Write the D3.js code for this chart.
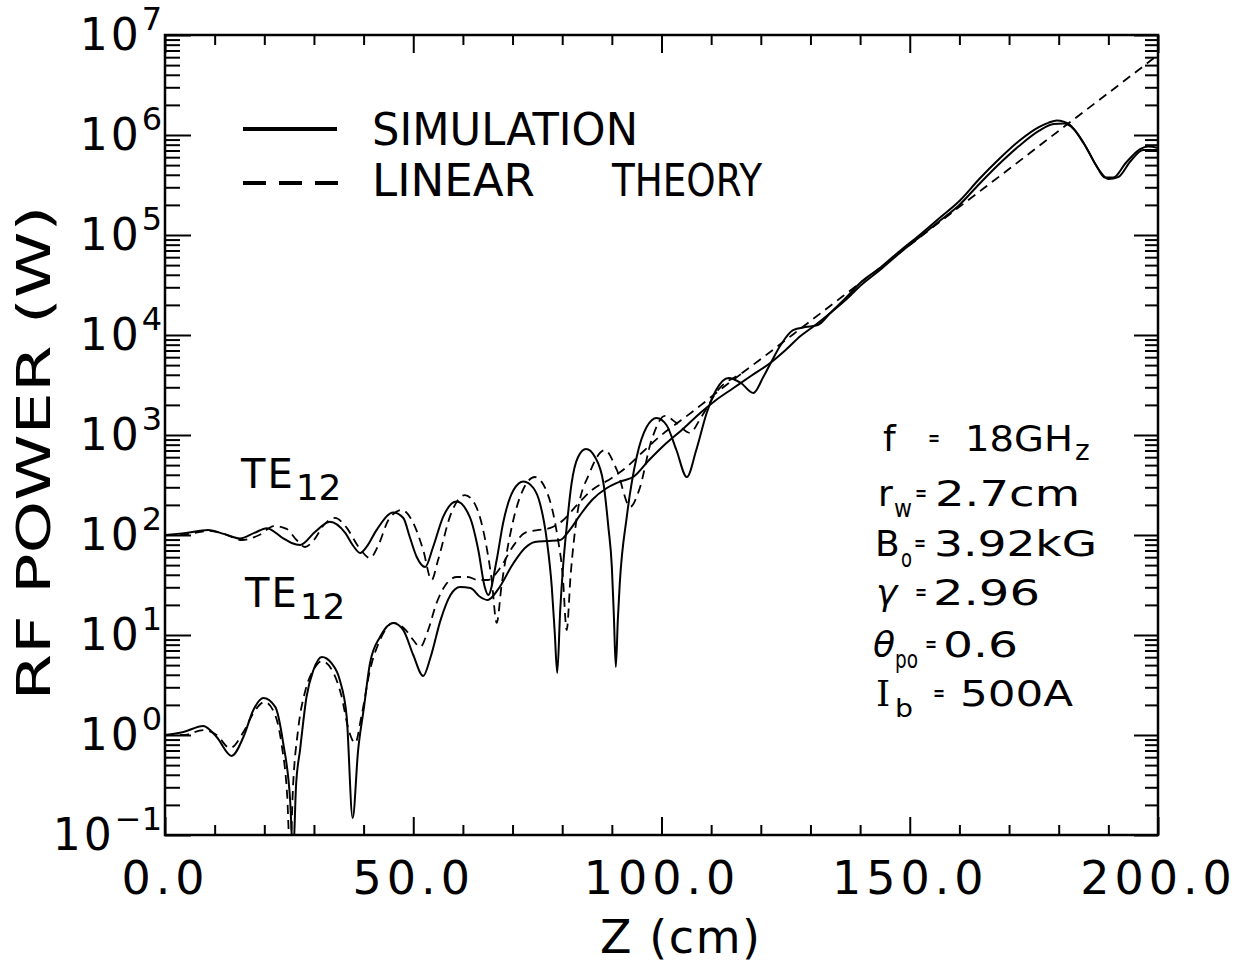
<!DOCTYPE html>
<html>
<head>
<meta charset="utf-8">
<script src="https://cdn.jsdelivr.net/npm/d3@7"></script>
<style>
  body { margin: 0; background: #fff; }
  svg { font-family: "DejaVu Sans", sans-serif; }
  .axis line { stroke: #000; stroke-width: 2; }
  .curve { fill: none; stroke: #000; stroke-width: 2; stroke-linejoin: round; }
  .curve.dash { stroke-dasharray: 9,6; stroke-width: 1.8; }
  .lbl { fill: #000; }
</style>
</head>
<body>
<script>
// axis ranges and ticks
var zRange = [0, 200];
var powerRange = [1e-1, 1e7];
var xMinorTicks = [0, 10, 20, 30, 40, 50, 60, 70, 80, 90, 100, 110, 120, 130, 140, 150, 160, 170, 180, 190, 200];
var xLabelTicks = [0, 50, 100, 150, 200];
var yLabelExps = [-1, 0, 1, 2, 3, 4, 5, 6, 7];

// TE12 started at 100 W : simulation (solid)
var zSimTop = [0, 4.2, 8.7, 12, 15.1, 18, 20.5, 23.8, 25.5, 27.2, 30.2, 33.2, 36.3, 37.8, 39.3, 40.6, 42.6, 46, 48, 49.3,
  50.7, 52.4, 54, 56, 58.7, 61.4, 63.1, 64.4, 65.1, 66.8, 68.1, 70.2, 72.2, 74.2, 75.5, 76.9, 77.9, 78.5, 79, 79.6,
  80.2, 80.9, 81.9, 83.2, 84.8, 86.6, 88.3, 89.3, 90, 90.4, 90.8, 91.2, 91.6, 93, 95, 97, 99, 101, 103, 105.1,
  107, 109.1, 111, 113.5, 116, 118.5, 120.5, 122, 124, 126.5, 129, 131.5, 134, 137.3, 140, 144, 148, 152, 156, 160,
  164, 168, 172, 176, 178, 179.6, 181, 182.3, 185, 187.5, 189.3, 191, 193.5, 196.4, 198, 200];
var pSimTop = [100, 105, 112, 102, 92.3, 105, 117, 92.7, 83.2, 79.4, 107, 136, 105, 79.4, 66.1, 75.9, 112, 168, 148, 95.5,
  60.3, 47.9, 75.9, 151, 216, 151, 70.8, 30.2, 25.1, 56.2, 132, 282, 343, 295, 209, 89.1, 30.2, 10.5, 4.17, 17.8,
  50.1, 120, 331, 603, 724, 603, 331, 120, 47.9, 15.8, 4.79, 14.1, 33.1, 151, 603, 1200, 1480, 1260, 708, 380,
  708, 1660, 2820, 3720, 3310, 2630, 3800, 5250, 7940, 11200, 12000, 12600, 16600, 24000, 33100, 46800, 69200, 1.0e5, 1.48e5, 2.19e5,
  3.63e5, 5.75e5, 8.71e5, 1.20e6, 1.33e6, 1.40e6, 1.36e6, 1.26e6, 8.32e5, 5.01e5, 3.76e5, 3.76e5, 5.25e5, 7.24e5, 7.67e5, 7.41e5];

// TE12 started at 1 W : simulation (solid)
var zSimLow = [0, 3.7, 7.7, 10.4, 13.4, 15.8, 17.8, 19.8, 22.2, 23.8, 25.2, 25.8, 26.4, 27.2, 28.5, 29.9, 31.6, 33.5, 35.2, 36.6,
  37.8, 38.9, 40, 41.3, 43.3, 46, 48, 50, 52, 53.5, 55.5, 57.5, 59.4, 61.5, 63.5, 65, 67, 70.2, 72.5, 74.5,
  77, 79.6, 81.5, 83.6, 86, 89, 92, 94.3, 97.5, 101, 104.5, 107.8, 111, 114.5, 118, 121.9, 125, 128, 131, 134,
  137.3, 140, 144, 148, 152, 156, 160, 164, 168, 172, 176, 179, 181, 183, 185.5, 188, 190, 192, 194.5, 197, 200];
var pSimLow = [1.00, 1.07, 1.23, 0.955, 0.617, 0.955, 1.78, 2.34, 1.91, 0.832, 0.224, 0.063, 0.316, 0.708, 2.40, 4.47, 6.03, 5.25, 3.55, 1.51,
  0.148, 0.708, 1.78, 5.25, 9.55, 13.2, 11.2, 6.31, 3.89, 6.03, 14.1, 25.1, 30.2, 29.5, 24.0, 22.4, 28.2, 52.5, 74.1, 85.1,
  87.1, 89.1, 112, 158, 224, 295, 347, 380, 562, 832, 1170, 1660, 2240, 2950, 3890, 5250, 7080, 9770, 12600, 16600,
  22900, 30900, 44700, 66100, 95500, 1.38e5, 2.0e5, 3.24e5, 5.13e5, 7.76e5, 1.10e6, 1.29e6, 1.30e6, 1.15e6, 7.59e5, 4.57e5, 3.63e5, 3.80e5, 5.50e5, 7.08e5, 7.08e5];

// TE12 started at 100 W : linear theory (dashed)
var zLinTop = [0, 4.2, 9, 12, 15.5, 19, 22, 24.5, 26.5, 28.2, 30, 32, 34.2, 36.5, 39, 41.3, 43, 45, 47.7, 50,
  52, 53.7, 55, 57.5, 60.4, 62.5, 64.5, 65.8, 66.8, 67.8, 69.5, 71.5, 74.5, 77, 79, 80.1, 80.9, 81.7, 83, 85.5,
  88.6, 91, 93.7, 95.5, 98, 100.7, 103, 105.7, 108, 111.4, 116.5, 120, 130, 140, 150, 160, 170, 180, 190, 200];
var pLinTop = [100, 102, 110, 102, 89.1, 100, 123, 115, 89.1, 75.9, 89.1, 126, 148, 120, 75.9, 58.9, 79.4, 141, 178, 132,
  70.8, 35.5, 56.2, 158, 251, 200, 89.1, 35.5, 13.2, 31.6, 100, 240, 380, 263, 100, 39.8, 11.2, 39.8, 158, 417,
  708, 447, 191, 282, 891, 1550, 1320, 1050, 1510, 2820, 4270, 5750, 13800, 33100, 79400, 1.91e5, 4.57e5, 1.10e6, 2.63e6, 6.31e6];

// TE12 started at 1 W : linear theory (dashed)
var zLinLow = [0, 3.7, 7.7, 10.4, 13.1, 15.8, 17.8, 20.1, 22.2, 23.5, 24.6, 25.2, 25.8, 26.8, 28.3, 29.9, 31.6, 33.5, 35.5, 37,
  38.3, 39.6, 41.3, 43.3, 46, 48.5, 50, 51.4, 53, 54.7, 56.5, 58.8, 61, 63, 65, 67.5, 70, 72.5, 75, 77.5,
  80, 83, 86, 90, 93, 96, 100, 104, 108, 112, 116];
var pLinLow = [1.00, 1.00, 1.12, 1.00, 0.741, 1.07, 1.66, 2.14, 1.58, 0.794, 0.251, 0.063, 0.316, 1.12, 2.82, 4.47, 5.50, 4.57, 2.51, 1.12,
  0.832, 1.58, 4.47, 8.91, 13.2, 11.2, 8.91, 7.59, 11.2, 20.9, 31.6, 38.0, 38.0, 35.5, 35.5, 46.8, 75.9, 105, 112, 117,
  138, 200, 282, 372, 479, 661, 1000, 1410, 2000, 2880, 4070];

// operating parameters
var paramSymbols = ['f', 'r', 'B', '\u03b3', '\u03b8', 'I'];
var paramSubs = ['', 'w', 'o', '', 'po', 'b'];
var paramValues = ['18GH', '2.7cm', '3.92kG', '2.96', '0.6', '500A'];
var paramTails = ['z', '', '', '', '', ''];

var series = [
  {name: 'simTop', dashed: false, values: d3.zip(zSimTop, pSimTop)},
  {name: 'simLow', dashed: false, values: d3.zip(zSimLow, pSimLow)},
  {name: 'linTop', dashed: true, values: d3.zip(zLinTop, pLinTop)},
  {name: 'linLow', dashed: true, values: d3.zip(zLinLow, pLinLow)}
];

var w = 1241, h = 963;
var frame = {left: 165, right: 1158, top: 35, bottom: 835};

var svg = d3.select('body').append('svg')
    .attr('width', w)
    .attr('height', h);

var x = d3.scaleLinear().domain(zRange).range([frame.left, frame.right]);
var y = d3.scaleLog().domain(powerRange).range([frame.bottom, frame.top]);

svg.append('defs').append('clipPath')
    .attr('id', 'plotClip')
  .append('rect')
    .attr('x', frame.left)
    .attr('y', frame.top)
    .attr('width', frame.right - frame.left)
    .attr('height', frame.bottom - frame.top);

function isMajorX(d) { return xLabelTicks.indexOf(d) >= 0; }
function isMajorY(d) { return Math.abs(Math.log10(d) - Math.round(Math.log10(d))) < 1e-6; }

// bottom axis with labels
var gxb = svg.append('g')
    .attr('class', 'axis')
    .attr('transform', translation(0, frame.bottom))
    .call(d3.axisBottom(x).tickValues(xMinorTicks).tickSize(-10).tickPadding(26)
      .tickFormat(function(d) { return isMajorX(d) ? d3.format('.1f')(d) : ''; }))
    .attr('font-family', '"DejaVu Sans", sans-serif')
    .attr('font-size', 46);
gxb.select('.domain').remove();
gxb.selectAll('.tick line').attr('y2', function(d) { return isMajorX(d) ? -18 : -10; });
gxb.selectAll('.tick text').attr('fill', '#000').attr('letter-spacing', 5);

// top axis, ticks only
var gxt = svg.append('g')
    .attr('class', 'axis')
    .attr('transform', translation(0, frame.top))
    .call(d3.axisTop(x).tickValues(xMinorTicks).tickSize(-10).tickFormat(''));
gxt.select('.domain').remove();
gxt.selectAll('.tick line').attr('y2', function(d) { return isMajorX(d) ? 18 : 10; });

// left and right log axes
var gyl = svg.append('g')
    .attr('class', 'axis')
    .attr('transform', translation(frame.left, 0))
    .call(d3.axisLeft(y).tickValues(y.ticks()).tickSize(-15).tickFormat(''));
gyl.select('.domain').remove();
gyl.selectAll('.tick line').attr('x2', function(d) { return isMajorY(d) ? 26 : 15; });

var gyr = svg.append('g')
    .attr('class', 'axis')
    .attr('transform', translation(frame.right, 0))
    .call(d3.axisRight(y).tickValues(y.ticks()).tickSize(-13).tickFormat(''));
gyr.select('.domain').remove();
gyr.selectAll('.tick line').attr('x2', function(d) { return isMajorY(d) ? -24 : -13; });

// frame
svg.append('rect')
    .attr('x', frame.left)
    .attr('y', frame.top)
    .attr('width', frame.right - frame.left)
    .attr('height', frame.bottom - frame.top)
    .attr('fill', 'none')
    .attr('stroke', '#000')
    .attr('stroke-width', 2.5);

// y tick labels 10^n
var ylab = svg.append('g').selectAll('text')
    .data(yLabelExps)
    .enter().append('text')
    .attr('class', 'lbl')
    .attr('x', frame.left - 3)
    .attr('y', function(d) { return y(Math.pow(10, d)) + 15; })
    .attr('text-anchor', 'end');
ylab.append('tspan')
    .attr('font-size', 44)
    .attr('letter-spacing', 3)
    .text('10');
ylab.append('tspan')
    .attr('font-size', 32)
    .attr('dy', -20)
    .text(function(d) { return d < 0 ? '\u2212' + Math.abs(d) : d; });

// axis titles
svg.append('text')
    .attr('class', 'lbl')
    .attr('transform', translation(50, 453) + ' rotate(-90)')
    .attr('text-anchor', 'middle')
    .attr('font-size', 46)
    .attr('textLength', 495)
    .attr('lengthAdjust', 'spacingAndGlyphs')
    .text('RF POWER (W)');

svg.append('text')
    .attr('class', 'lbl')
    .attr('x', 680)
    .attr('y', 953)
    .attr('text-anchor', 'middle')
    .attr('font-size', 46)
    .attr('textLength', 160)
    .attr('lengthAdjust', 'spacing')
    .text('Z (cm)');

// curves
var line = d3.line()
    .x(function(d) { return x(d[0]); })
    .y(function(d) { return y(d[1]); })
    .curve(d3.curveMonotoneX);

svg.append('g')
    .attr('clip-path', 'url(#plotClip)')
  .selectAll('path')
    .data(series)
    .enter().append('path')
    .attr('class', function(d) { return d.dashed ? 'curve dash' : 'curve'; })
    .attr('d', function(d) { return line(d.values); });

// legend
var legend = svg.append('g').attr('class', 'legend');
legend.append('line')
    .attr('x1', 243).attr('x2', 337).attr('y1', 129).attr('y2', 129)
    .attr('stroke', '#000').attr('stroke-width', 4);
legend.append('line')
    .attr('x1', 243).attr('x2', 341).attr('y1', 183).attr('y2', 183)
    .attr('stroke', '#000').attr('stroke-width', 4)
    .attr('stroke-dasharray', '23,13');
legend.append('text')
    .attr('class', 'lbl')
    .attr('x', 372).attr('y', 145)
    .attr('font-size', 44)
    .attr('textLength', 266).attr('lengthAdjust', 'spacingAndGlyphs')
    .text('SIMULATION');
legend.append('text')
    .attr('class', 'lbl')
    .attr('x', 372).attr('y', 196)
    .attr('font-size', 44)
    .attr('textLength', 163).attr('lengthAdjust', 'spacingAndGlyphs')
    .text('LINEAR');
legend.append('text')
    .attr('class', 'lbl')
    .attr('x', 612).attr('y', 196)
    .attr('font-size', 44)
    .attr('textLength', 150).attr('lengthAdjust', 'spacingAndGlyphs')
    .text('THEORY');

// mode labels
function modeLabel(x0, y0) {
  var t = svg.append('text')
      .attr('class', 'lbl')
      .attr('x', x0).attr('y', y0)
      .attr('font-size', 40);
  t.append('tspan').attr('letter-spacing', 2).text('TE');
  t.append('tspan').attr('dx', 1).attr('dy', 12).attr('font-size', 36).text('12');
}
modeLabel(241, 488);
modeLabel(245, 607);

// parameter block: layout per row
var rowY = [451, 506, 556, 605, 657, 706];
var symX = [883, 878, 875, 876, 873, 876];
var subX = [0, 894, 901, 0, 895, 895];
var subW = [0, 18, 11, 0, 23, 18];
var eqX = [928, 915, 914, 915, 925, 933];
var valX = [965, 935, 934, 933, 943, 960];
var valW = [108, 145, 163, 107, 75, 113];

var pg = svg.append('g').attr('class', 'params');
paramSymbols.forEach(function(sym, i) {
  pg.append('text')
      .attr('class', 'lbl')
      .attr('x', symX[i]).attr('y', rowY[i])
      .attr('font-size', 36)
      .attr('font-family', sym === 'I' ? '"DejaVu Serif", serif' : null)
      .attr('font-style', sym === '\u03b8' || sym === '\u03b3' ? 'italic' : null)
      .text(sym);
  if (paramSubs[i]) {
    pg.append('text')
        .attr('class', 'lbl')
        .attr('x', subX[i]).attr('y', rowY[i] + 11)
        .attr('font-size', 24)
        .attr('textLength', subW[i]).attr('lengthAdjust', 'spacingAndGlyphs')
        .text(paramSubs[i]);
  }
  pg.append('text')
      .attr('class', 'lbl')
      .attr('x', eqX[i]).attr('y', rowY[i] - 6)
      .attr('font-size', 20)
      .attr('font-weight', 'bold')
      .attr('textLength', 12).attr('lengthAdjust', 'spacingAndGlyphs')
      .text('=');
  pg.append('text')
      .attr('class', 'lbl')
      .attr('x', valX[i]).attr('y', rowY[i])
      .attr('font-size', 36)
      .attr('textLength', valW[i]).attr('lengthAdjust', 'spacingAndGlyphs')
      .text(paramValues[i]);
  if (paramTails[i]) {
    pg.append('text')
        .attr('class', 'lbl')
        .attr('x', valX[i] + valW[i] + 2).attr('y', rowY[i] + 9)
        .attr('font-size', 28)
        .text(paramTails[i]);
  }
});

// string concat for translate
function translation(a, b) {
  return 'translate(' + a + ',' + b + ')';
}
</script>
</body>
</html>
